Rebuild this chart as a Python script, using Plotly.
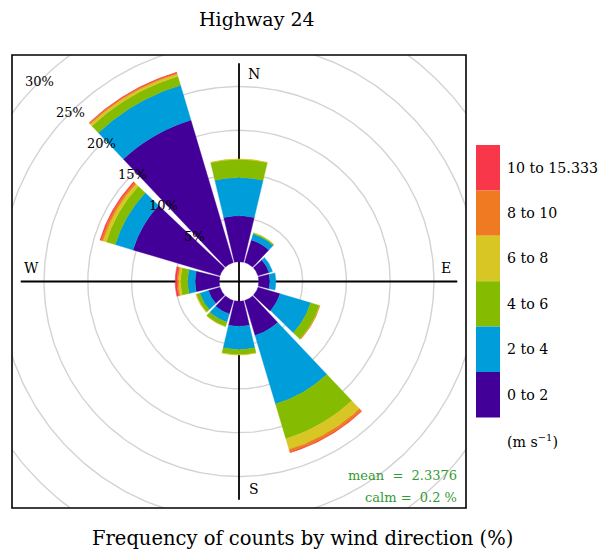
import numpy as np
import plotly.graph_objects as go

# ---------------- data ----------------
directions = [0, 30, 60, 90, 120, 150, 180, 210, 240, 270, 300, 330]
bands = ["0 to 2", "2 to 4", "4 to 6", "6 to 8", "8 to 10", "10 to 15.333"]
band_colors = ["#430098", "#009DDB", "#85BB00", "#D8C624", "#F07A22", "#F8374A"]
f_0_2 = [5.25, 2.69, 1.32, 1.27, 2.63, 4.17, 2.86, 1.61, 1.38, 2.75, 10.37, 16.97]
f_2_4 = [4.36, 0.72, 0.40, 0.68, 3.64, 8.17, 2.65, 0.97, 1.02, 0.85, 2.11, 4.15]
f_4_6 = [2.07, 0.11, 0.00, 0.00, 1.03, 4.13, 0.59, 0.51, 0.40, 0.80, 1.07, 1.06]
f_6_8 = [0.05, 0.03, 0.00, 0.00, 0.05, 1.28, 0.04, 0.03, 0.08, 0.28, 0.40, 0.30]
f_8_10 = [0.00, 0.00, 0.00, 0.00, 0.02, 0.35, 0.00, 0.00, 0.00, 0.15, 0.24, 0.14]
f_10_15 = [0.00, 0.00, 0.00, 0.00, 0.00, 0.02, 0.00, 0.00, 0.00, 0.19, 0.11, 0.04]
ring_pct = [5, 10, 15, 20, 25, 30, 35]
compass_labels = ["N", "E", "S", "W"]
compass_angles = [0, 90, 180, 270]
mean_ws = 2.3376
calm_pct = 0.2
title_text = "Highway 24"
caption_text = "Frequency of counts by wind direction (%)"
units_text = "(m s<sup>\u22121</sup>)"

# ---------------- geometry ----------------
# the page body has an 8px default margin; lay out in page pixels and shift
PAGE_OFF = 8
W, H = 608 - PAGE_OFF, 557 - PAGE_OFF
BOX_L, BOX_R, BOX_T, BOX_B = 12, 466, 55, 508  # page pixels of the panel
ML = BOX_L - PAGE_OFF
MT = BOX_T - PAGE_OFF
MR = W - (BOX_R - PAGE_OFF)
MB = H - (BOX_B - PAGE_OFF)
PW, PH = W - ML - MR, H - MT - MB

band_vals = [f_0_2, f_2_4, f_4_6, f_6_8, f_8_10, f_10_15]
cum = np.cumsum(np.array(band_vals), axis=0)
totals = cum[-1]
max_freq = totals.max()
off = 0.1 * max_freq
lim = 1.04 * (max_freq + off)
lim_y = lim * PH / PW
half_w = 13.4  # degrees half-width of each wedge


def px2paper_x(px):
    return (px - BOX_L) / (BOX_R - BOX_L)


def px2paper_y(py):
    return (BOX_B - py) / (BOX_B - BOX_T)


fig = go.Figure()

# grid rings
rx, ry = [], []
th = np.radians(np.linspace(0, 360, 361))
for p in ring_pct:
    r = off + p
    rx += list(r * np.sin(th)) + [None]
    ry += list(r * np.cos(th)) + [None]
fig.add_trace(go.Scatter(x=rx, y=ry, mode="lines",
                         line=dict(color="#D3D3D3", width=1.4),
                         hoverinfo="skip", showlegend=False))

# axis cross
ext = max_freq + off
fig.add_trace(go.Scatter(x=[-ext, ext, None, 0, 0], y=[0, 0, None, -ext, ext],
                         mode="lines", line=dict(color="black", width=1.8),
                         hoverinfo="skip", showlegend=False))

# wedges
for b in range(len(bands)):
    xs, ys = [], []
    for i, d in enumerate(directions):
        if band_vals[b][i] <= 0:
            continue
        r0 = off + (cum[b - 1][i] if b > 0 else 0.0)
        r1 = off + cum[b][i]
        t = np.radians(np.linspace(d - half_w, d + half_w, 40))
        px_ = list(r1 * np.sin(t)) + list(r0 * np.sin(t[::-1]))
        py_ = list(r1 * np.cos(t)) + list(r0 * np.cos(t[::-1]))
        xs += px_ + [px_[0], None]
        ys += py_ + [py_[0], None]
    fig.add_trace(go.Scatter(x=xs, y=ys, mode="lines", fill="toself",
                             fillcolor=band_colors[b],
                             line=dict(color=band_colors[b], width=0.4),
                             hoverinfo="skip", showlegend=False, name=bands[b]))

annotations = []
# percentage labels along the NW diagonal
for p in ring_pct:
    r = off + p
    x = -r * np.sin(np.radians(45))
    y = r * np.cos(np.radians(45))
    if abs(x) < lim * 0.97 and abs(y) < lim_y * 0.97:
        annotations.append(dict(x=x, y=y, xref="x", yref="y", text=f"{p}%",
                                showarrow=False, font=dict(size=13, color="black"),
                                xanchor="center", yanchor="middle"))

# compass labels
rl = 0.95 * (max_freq + off)
for lab, a in zip(compass_labels, compass_angles):
    x = rl * np.sin(np.radians(a))
    y = rl * np.cos(np.radians(a))
    xs_, ys_ = (15, 0) if a in (0, 180) else (0, 14)
    annotations.append(dict(x=x, y=y, xref="x", yref="y", text=lab, showarrow=False,
                            xshift=xs_, yshift=ys_,
                            font=dict(size=14, color="black"),
                            xanchor="center", yanchor="middle"))

# mean / calm
green = "#339A33"
annotations.append(dict(x=px2paper_x(459), y=px2paper_y(475), xref="paper", yref="paper",
                        text=f"mean  =  {mean_ws}", showarrow=False,
                        font=dict(size=13, color=green), xanchor="right", yanchor="middle"))
annotations.append(dict(x=px2paper_x(459), y=px2paper_y(497), xref="paper", yref="paper",
                        text=f"calm =  {calm_pct} %", showarrow=False,
                        font=dict(size=13, color=green), xanchor="right", yanchor="middle"))

# legend key
shapes = []
box_top, box_h = 145, 45.4
for k in range(len(bands)):
    idx = len(bands) - 1 - k
    y0 = box_top + k * box_h
    y1 = y0 + box_h
    shapes.append(dict(type="rect", xref="paper", yref="paper",
                       x0=px2paper_x(476), x1=px2paper_x(500),
                       y0=px2paper_y(y1), y1=px2paper_y(y0),
                       fillcolor=band_colors[idx], line=dict(width=0)))
    annotations.append(dict(x=px2paper_x(505), y=px2paper_y((y0 + y1) / 2),
                            xref="paper", yref="paper", text=bands[idx], showarrow=False,
                            font=dict(size=14.2, color="black"),
                            xanchor="left", yanchor="middle"))
annotations.append(dict(x=px2paper_x(505), y=px2paper_y(441), xref="paper", yref="paper",
                        text=units_text, showarrow=False, font=dict(size=14.2, color="black"),
                        xanchor="left", yanchor="middle"))

# caption
annotations.append(dict(x=px2paper_x(302), y=px2paper_y(538), xref="paper", yref="paper",
                        text=caption_text, showarrow=False,
                        font=dict(size=19.5, color="black"),
                        xanchor="center", yanchor="middle"))

# title (as annotation, page-pixel placement)
annotations.append(dict(x=px2paper_x(257), y=px2paper_y(19), xref="paper", yref="paper",
                        text=title_text, showarrow=False,
                        font=dict(size=19, color="black"),
                        xanchor="center", yanchor="middle"))

# panel box
shapes.append(dict(type="rect", xref="paper", yref="paper", x0=0, x1=1, y0=0, y1=1,
                   line=dict(color="black", width=1.6), fillcolor="rgba(0,0,0,0)",
                   layer="above"))

fig.update_layout(
    width=W, height=H,
    margin=dict(l=ML, r=MR, t=MT, b=MB, pad=0, autoexpand=False),
    paper_bgcolor="white", plot_bgcolor="white",
    font=dict(family="DejaVu Serif", color="black"),
    xaxis=dict(range=[-lim, lim], visible=False, fixedrange=True),
    yaxis=dict(range=[-lim_y, lim_y], visible=False, fixedrange=True),
    showlegend=False,
    hovermode=False,
    annotations=annotations,
    shapes=shapes,
)

fig.write_html("out.html")
